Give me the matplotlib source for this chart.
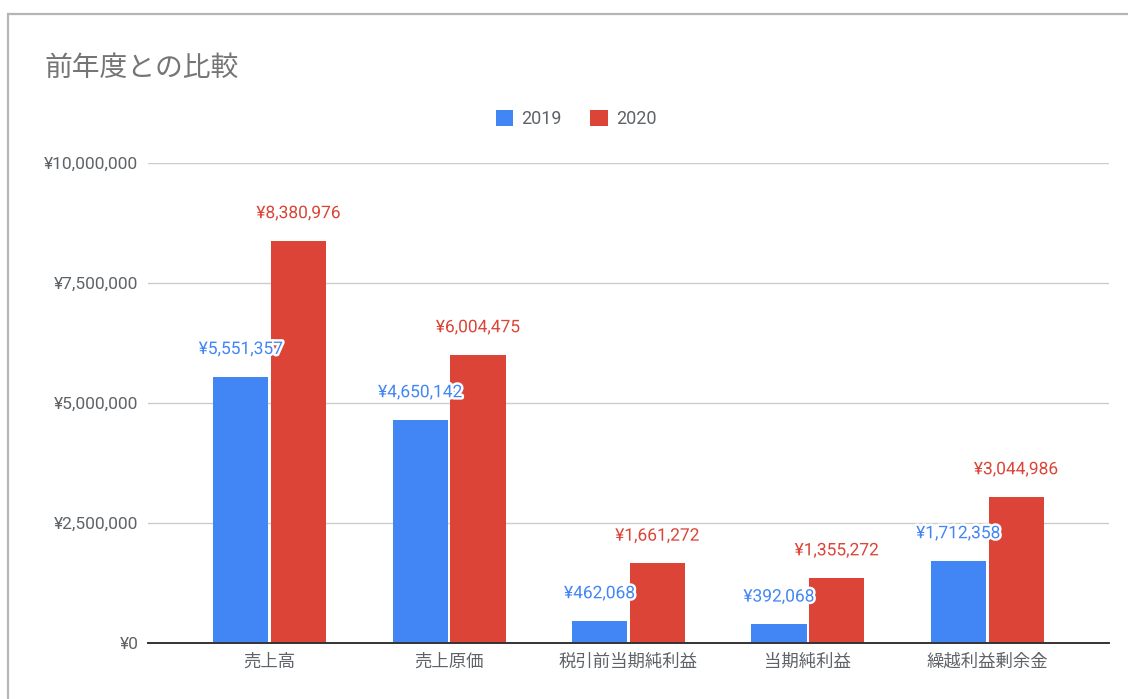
import matplotlib
matplotlib.use('Agg')
import matplotlib.pyplot as plt
import matplotlib.patheffects as pe
from matplotlib.patches import Rectangle, Patch
from matplotlib.ticker import FuncFormatter
import numpy as np

# data
categories = ['売上高', '売上原価', '税引前当期純利益', '当期純利益', '繰越利益剰余金']
values_2019 = [5551357, 4650142, 462068, 392068, 1712358]
values_2020 = [8380976, 6004475, 1661272, 1355272, 3044986]
series_names = ['2019', '2020']

BLUE = '#4285F4'
RED = '#DB4437'
GREY_TEXT = '#5f6368'

plt.rcParams['font.family'] = ['Roboto', 'Noto Sans CJK JP', 'DejaVu Sans']

W, H = 1128, 699
fig = plt.figure(figsize=(W / 100, H / 100), dpi=100)

# outer card border (top and left visible, rest cut off)
fig.patches.append(Rectangle((8 / W, -0.1), 1.2, 1 - 14 / H + 0.1, transform=fig.transFigure,
                             fill=False, edgecolor='#b5b5b5', linewidth=1.6))

ax = fig.add_axes([148 / W, 1 - 643 / H, (1109 - 148) / W, (643 - 163) / H])

x = np.arange(len(categories))
bw = 0.307
off = 0.161
b1 = ax.bar(x - off, values_2019, bw, color=BLUE, zorder=2)
b2 = ax.bar(x + off, values_2020, bw, color=RED, zorder=2)

def yen(v, pos=None):
    return '¥{:,.0f}'.format(v)

for bars, vals, col in [(b1, values_2019, BLUE), (b2, values_2020, RED)]:
    for rect, v in zip(bars, vals):
        ax.annotate(yen(v), (rect.get_x() + rect.get_width() / 2, v),
                    xytext=(0, 19.5), textcoords='offset points',
                    ha='center', va='center', fontsize=12.5, color=col, zorder=5,
                    annotation_clip=False,
                    path_effects=[pe.withStroke(linewidth=3.5, foreground='white')])

ax.set_xlim(-0.5 - 32 / 179, len(categories) - 0.5 + 32 / 179)
ax.set_ylim(0, 10000000)
ax.set_yticks([0, 2500000, 5000000, 7500000, 10000000])
ax.yaxis.set_major_formatter(FuncFormatter(yen))
ax.set_xticks(x)
ax.set_xticklabels(categories, fontfamily=['Noto Sans CJK JP', 'DejaVu Sans'])
ax.tick_params(axis='y', length=0, pad=7, labelsize=12.5, labelcolor=GREY_TEXT)
ax.tick_params(axis='x', length=0, pad=7, labelsize=12.5, labelcolor=GREY_TEXT)

ax.grid(axis='y', color='#cccccc', linewidth=1, zorder=0)
ax.set_axisbelow(True)
for s in ['top', 'right', 'left']:
    ax.spines[s].set_visible(False)
ax.spines['bottom'].set_color('#333333')
ax.spines['bottom'].set_linewidth(1.4)
ax.spines['bottom'].set_zorder(3)

fig.text(44 / W, 1 - 68 / H, '前年度との比較', fontsize=20, color='#757575',
         va='center', ha='left', fontfamily=['Noto Sans CJK JP', 'DejaVu Sans'])

handles = [Patch(facecolor=BLUE, edgecolor='none'), Patch(facecolor=RED, edgecolor='none')]
fig.legend(handles, series_names, loc='center', bbox_to_anchor=(576 / W, 1 - 119 / H),
           ncol=2, frameon=False, fontsize=13, labelcolor=GREY_TEXT,
           handlelength=0.95, handleheight=0.95, handletextpad=0.45, columnspacing=1.6)

fig.savefig('out.png', dpi=100)
plt.close('all')
